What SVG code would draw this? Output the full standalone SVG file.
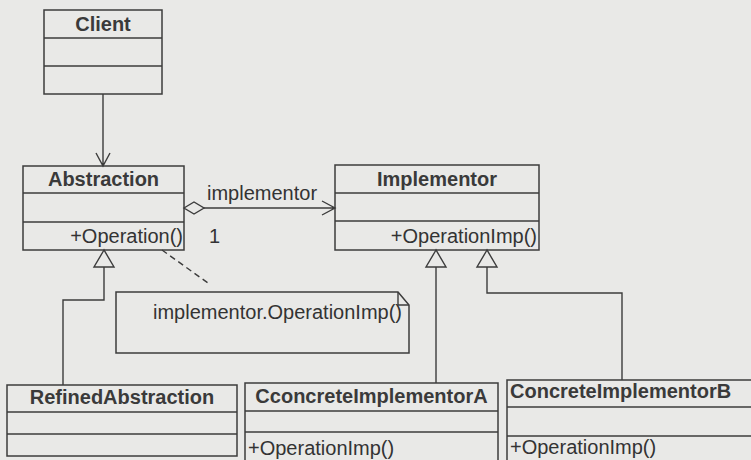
<svg xmlns="http://www.w3.org/2000/svg" width="751" height="460" viewBox="0 0 751 460">
<style>
.box{fill:none;stroke:#3c3c3c;stroke-width:1.5}
.ln{fill:none;stroke:#3c3c3c;stroke-width:1.4}
.dash{fill:none;stroke:#3c3c3c;stroke-width:1.4;stroke-dasharray:6 4}
.tri{fill:#e9e9e7;stroke:#3c3c3c;stroke-width:1.4}
.t{font-family:"Liberation Sans",Arial,sans-serif;font-size:20px;fill:#333}
.b{font-weight:bold;fill:#3a3a3a}
.m{text-anchor:middle}
.e{text-anchor:end}
</style>
<rect width="751" height="460" fill="#e9e9e7"/>
<g id="connectors">
  <path class="ln" d="M103 94 V166 M96 153 L103 166 L110 153"/>
  <path class="tri" d="M184 208 L194 202 L204 208 L194 214 Z"/>
  <path class="ln" d="M204 208 H335 M322 201 L335 208 L322 215"/>
  <text class="t" x="207" y="200">implementor</text>
  <text class="t" x="209" y="243">1</text>
  <path class="ln" d="M104 267 V300 H63 V385"/>
  <path class="tri" d="M104 250 L94 267 L114 267 Z"/>
  <path class="ln" d="M436 267 V383"/>
  <path class="tri" d="M436 250 L426 267 L446 267 Z"/>
  <path class="ln" d="M487 267 V293 H622 V380"/>
  <path class="tri" d="M487 250 L477 267 L497 267 Z"/>
  <path class="dash" d="M162 250 L208 283"/>
</g>
<g id="note">
  <path class="box" d="M116 292 H398 L409 305 V353 H116 Z"/>
  <path class="ln" d="M398 292 V305 H409"/>
  <text class="t" x="153" y="319">implementor.OperationImp()</text>
</g>
<g id="client">
  <rect class="box" x="44" y="10" width="118" height="84"/>
  <path class="ln" d="M44 38 H162 M44 66 H162"/>
  <text class="t b m" x="103" y="31">Client</text>
</g>
<g id="abstraction">
  <rect class="box" x="23" y="166" width="161" height="84"/>
  <path class="ln" d="M23 193 H184 M23 222 H184"/>
  <text class="t b m" x="103.5" y="186">Abstraction</text>
  <text class="t e" x="183" y="243">+Operation()</text>
</g>
<g id="implementor">
  <rect class="box" x="335" y="165" width="204" height="85"/>
  <path class="ln" d="M335 193 H539 M335 221 H539"/>
  <text class="t b m" x="437" y="186">Implementor</text>
  <text class="t e" x="537" y="243">+OperationImp()</text>
</g>
<g id="refinedAbstraction">
  <rect class="box" x="7" y="385" width="230" height="71"/>
  <path class="ln" d="M7 412 H237 M7 434 H237"/>
  <text class="t b m" x="122" y="404">RefinedAbstraction</text>
</g>
<g id="concreteImplementorA">
  <rect class="box" x="245" y="383" width="253" height="80"/>
  <path class="ln" d="M245 411 H498 M245 432 H498"/>
  <text class="t b m" x="371.5" y="403">CconcreteImplementorA</text>
  <text class="t" x="248" y="455">+OperationImp()</text>
</g>
<g id="concreteImplementorB">
  <rect class="box" x="507" y="380" width="250" height="85"/>
  <path class="ln" d="M507 407 H751 M507 436 H751"/>
  <text class="t b" x="510" y="398">ConcreteImplementorB</text>
  <text class="t" x="510" y="454">+OperationImp()</text>
</g>
</svg>
